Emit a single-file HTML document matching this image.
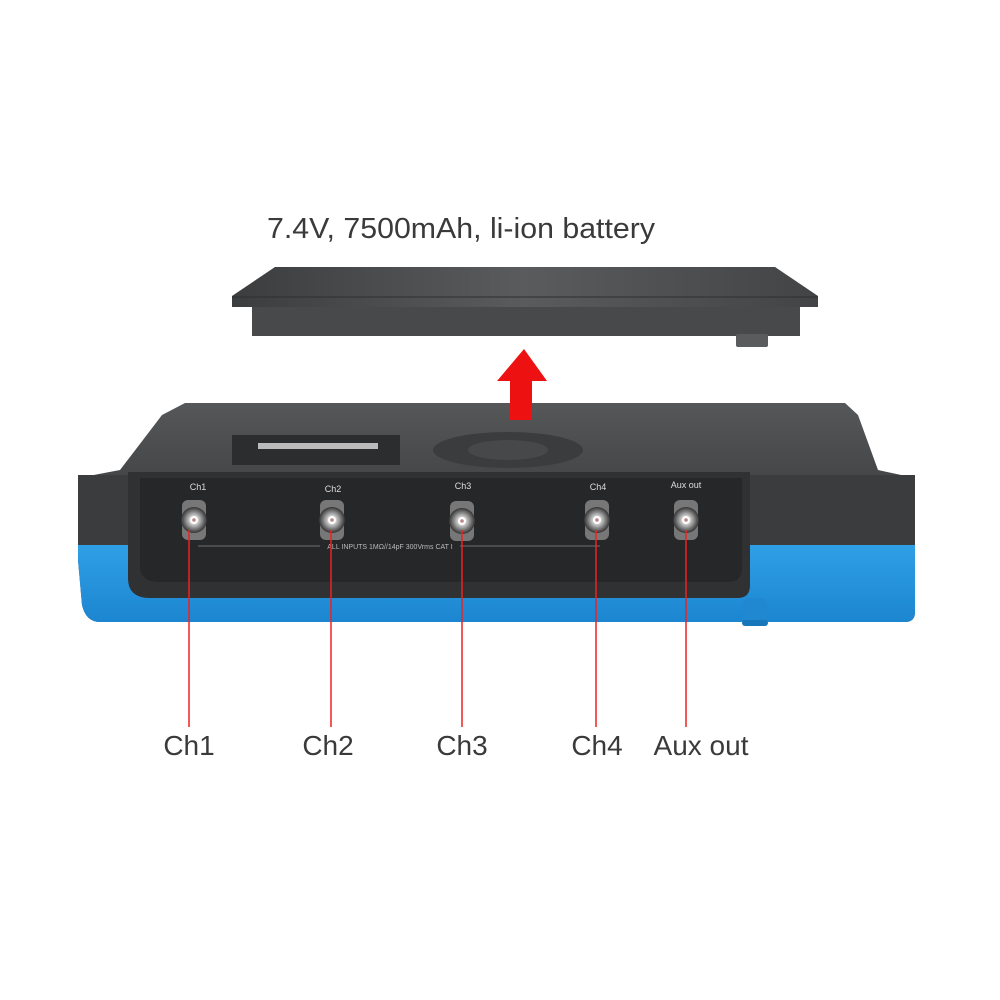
<!DOCTYPE html>
<html><head><style>
html,body{margin:0;padding:0;background:#fff;width:1000px;height:1000px;overflow:hidden}
svg{display:block}
text{font-family:"Liberation Sans",sans-serif}
</style></head><body>
<svg width="1000" height="1000" viewBox="0 0 1000 1000">
<defs>
<linearGradient id="bt" x1="0" x2="1"><stop offset="0" stop-color="#3c3d3f"/><stop offset=".5" stop-color="#5a5b5d"/><stop offset="1" stop-color="#434446"/></linearGradient>
<linearGradient id="top" x1="0" y1="0" x2="0" y2="1"><stop offset="0" stop-color="#555759"/><stop offset="1" stop-color="#3f4143"/></linearGradient>
<linearGradient id="blue" x1="0" y1="0" x2="0" y2="1"><stop offset="0" stop-color="#2f9fe6"/><stop offset="1" stop-color="#1c86d0"/></linearGradient>
<radialGradient id="bnc"><stop offset="0" stop-color="#fff"/><stop offset=".35" stop-color="#c9c9c9"/><stop offset=".7" stop-color="#777"/><stop offset="1" stop-color="#333"/></radialGradient>
</defs>
<text x="267" y="238" font-size="29" fill="#3a3a3a" textLength="388" lengthAdjust="spacingAndGlyphs">7.4V, 7500mAh, li-ion battery</text>
<!-- battery -->
<rect x="252" y="305" width="548" height="31" fill="#48494b"/>
<rect x="736" y="334" width="32" height="13" rx="2" fill="#5a5b5d"/>
<polygon points="275,267 775,267 818,296 818,307 232,307 232,296" fill="url(#bt)"/>
<line x1="232" y1="297" x2="818" y2="297" stroke="#2e2f31" stroke-width="1"/>
<!-- arrow -->
<polygon points="497,381 524,349 547,381" fill="#ee1111"/>
<rect x="510" y="380" width="22" height="40" fill="#ee1111"/>
<!-- device top -->
<polygon points="185,403 845,403 858,415 878,470 915,478 915,500 78,500 78,478 120,470 162,415" fill="url(#top)"/>
<rect x="510" y="400" width="22" height="20" fill="#ee1111"/>
<rect x="232" y="435" width="168" height="30" fill="#2c2d2f"/>
<rect x="258" y="443" width="120" height="6" fill="#bbb"/>
<ellipse cx="508" cy="450" rx="75" ry="18" fill="#3a3c3e"/>
<ellipse cx="508" cy="450" rx="40" ry="10" fill="#46484a"/>
<!-- front -->
<path d="M78,475 H915 V612 Q915,622 905,622 H100 Q86,622 82,605 L78,560 Z" fill="#3b3c3e"/>
<path d="M78,545 H915 V612 Q915,622 905,622 H100 Q86,622 82,605 L78,560 Z" fill="url(#blue)"/>
<path d="M128,472 H750 V585 Q750,598 738,598 H150 Q128,598 128,578 Z" fill="#2f3133"/>
<path d="M140,478 H742 V568 Q742,582 728,582 H160 Q140,582 140,566 Z" fill="#262729"/>
<rect x="742" y="598" width="26" height="24" rx="8" fill="#1f88d0"/>
<rect x="742" y="620" width="26" height="6" rx="3" fill="#1877bb"/>
<g font-size="9" fill="#ddd" text-anchor="middle">
<text x="198" y="490">Ch1</text><text x="333" y="492">Ch2</text><text x="463" y="489">Ch3</text><text x="598" y="490">Ch4</text><text x="686" y="488">Aux out</text>
</g>
<text x="390" y="549" font-size="7" fill="#bbb" text-anchor="middle">ALL INPUTS 1MΩ//14pF 300Vrms CAT I</text>
<line x1="198" y1="546" x2="320" y2="546" stroke="#888" stroke-width=".8"/>
<line x1="460" y1="546" x2="600" y2="546" stroke="#888" stroke-width=".8"/>
<g>
<g transform="translate(194,520)"><rect x="-12" y="-20" width="24" height="40" rx="6" fill="#777"/><circle r="13" fill="url(#bnc)"/><circle r="4" fill="#fff"/><circle r="1.8" fill="#b88"/></g>
<g transform="translate(332,520)"><rect x="-12" y="-20" width="24" height="40" rx="6" fill="#777"/><circle r="13" fill="url(#bnc)"/><circle r="4" fill="#fff"/><circle r="1.8" fill="#b88"/></g>
<g transform="translate(462,521)"><rect x="-12" y="-20" width="24" height="40" rx="6" fill="#777"/><circle r="13" fill="url(#bnc)"/><circle r="4" fill="#fff"/><circle r="1.8" fill="#b88"/></g>
<g transform="translate(597,520)"><rect x="-12" y="-20" width="24" height="40" rx="6" fill="#777"/><circle r="13" fill="url(#bnc)"/><circle r="4" fill="#fff"/><circle r="1.8" fill="#b88"/></g>
<g transform="translate(686,520)"><rect x="-12" y="-20" width="24" height="40" rx="6" fill="#777"/><circle r="13" fill="url(#bnc)"/><circle r="4" fill="#fff"/><circle r="1.8" fill="#b88"/></g>
</g>
<g stroke="#e22" stroke-width="1.5">
<line x1="189" y1="530" x2="189" y2="727"/><line x1="331" y1="530" x2="331" y2="727"/><line x1="462" y1="530" x2="462" y2="727"/><line x1="596" y1="530" x2="596" y2="727"/><line x1="686" y1="530" x2="686" y2="727"/>
</g>
<g font-size="28" fill="#3a3a3a" text-anchor="middle">
<text x="189" y="755">Ch1</text><text x="328" y="755">Ch2</text><text x="462" y="755">Ch3</text><text x="597" y="755">Ch4</text><text x="701" y="755">Aux out</text>
</g>
</svg>
</body></html>
